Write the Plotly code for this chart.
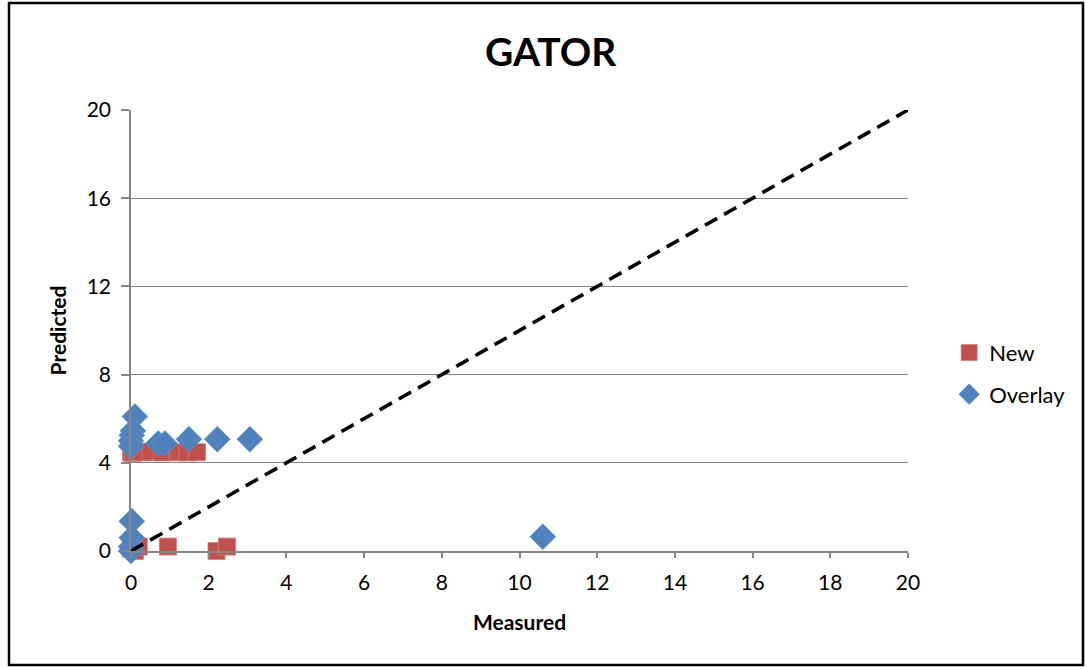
import plotly.graph_objects as go

# Data
new_x = [0.0, 0.05, 0.15, 0.3, 0.5, 0.8, 1.2, 1.45, 1.7, 0.0, 0.1, 0.2, 0.95, 2.2, 2.47]
new_y = [4.47, 4.45, 4.5, 4.47, 4.5, 4.47, 4.48, 4.47, 4.48, 0.1, 0.0, 0.2, 0.2, 0.0, 0.2]

overlay_x = [0.10, 0.05, 0.02, 0.0, 0.0, 0.70, 0.87, 1.49, 2.22, 3.06, 0.02, 0.02, 0.0, 0.0, 10.6]
overlay_y = [6.1, 5.45, 5.25, 5.0, 4.75, 4.88, 4.88, 5.07, 5.07, 5.07, 1.35, 0.6, 0.2, 0.0, 0.65]

line_x = [0, 20]
line_y = [0, 20]

tick_vals_x = [0, 2, 4, 6, 8, 10, 12, 14, 16, 18, 20]
tick_vals_y = [0, 4, 8, 12, 16, 20]

FONT = "Lato"
GRID = "#868686"

fig = go.Figure()
fig.add_trace(go.Scatter(
    x=new_x, y=new_y, mode="markers", name="New", legendgroup="a",
    marker=dict(symbol="square", size=17, color="#C0504D",
                line=dict(color="#D07B78", width=0.8)),
    cliponaxis=False))
fig.add_trace(go.Scatter(
    x=overlay_x, y=overlay_y, mode="markers", name="Overlay", legendgroup="b",
    marker=dict(symbol="diamond", size=20, color="#4F81BD",
                line=dict(color="#6E97C9", width=0.6)),
    cliponaxis=False))
fig.add_trace(go.Scatter(
    x=line_x, y=line_y, mode="lines", showlegend=False,
    line=dict(color="black", width=3.6, dash="14px,8px"),
    cliponaxis=False))

fig.update_layout(
    width=1086, height=667,
    margin=dict(l=131, r=178, t=110, b=116),
    paper_bgcolor="white", plot_bgcolor="white",
    font=dict(family=FONT, size=21, color="black"),
    title=dict(text="<b>GATOR</b>", x=0.507, xanchor="center",
               y=0.922, yanchor="middle",
               font=dict(family=FONT, size=39, color="black")),
    legend=dict(x=1.053, xanchor="left", y=0.497, yanchor="top",
                traceorder="grouped", tracegroupgap=10,
                font=dict(family=FONT, size=22), itemsizing="trace",
                itemwidth=30,
                bgcolor="rgba(0,0,0,0)"),
    xaxis=dict(range=[0, 20], tickvals=tick_vals_x, showgrid=False,
               showline=True, linecolor=GRID, linewidth=1.5,
               ticks="outside", ticklen=5, tickcolor=GRID, tickwidth=1.5,
               ticklabelstandoff=7,
               zeroline=False,
               title=dict(text="<b>Measured</b>", font=dict(size=21), standoff=22)),
    yaxis=dict(range=[0, 20], tickvals=tick_vals_y, showgrid=True,
               gridcolor=GRID, gridwidth=1.3,
               showline=True, linecolor=GRID, linewidth=1.5,
               ticks="outside", ticklen=8, tickcolor=GRID, tickwidth=1.5,
               ticklabelstandoff=6,
               zeroline=False,
               title=dict(text="<b>Predicted</b>", font=dict(size=21), standoff=14)),
    shapes=[dict(type="rect", xref="paper", yref="paper",
                 x0=-0.1570, x1=1.2252, y0=-0.2585, y1=1.2426,
                 line=dict(color="black", width=2.5), fillcolor="rgba(0,0,0,0)",
                 layer="below")],
)

fig.write_html("out.html")
